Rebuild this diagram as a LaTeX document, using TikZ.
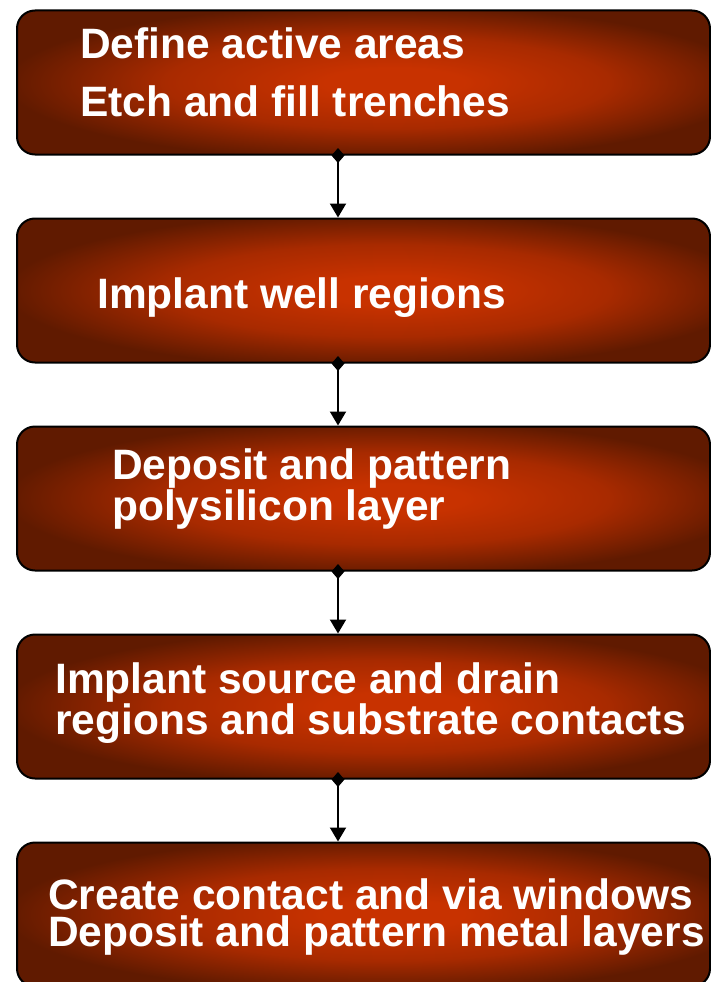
\documentclass[tikz,border=0pt]{standalone}
\usepackage{fontspec}
\setmainfont{Liberation Sans}
\usetikzlibrary{arrows.meta}

\definecolor{glowcore}{RGB}{200,50,0}
\definecolor{glowmid}{RGB}{168,42,0}
\definecolor{glowedge}{RGB}{96,26,0}
\pgfdeclareradialshading{stepglow}{\pgfpoint{2.5bp}{0bp}}{color(0bp)=(glowcore); color(5bp)=(glowcore); color(16bp)=(glowmid); color(27bp)=(glowedge); color(50bp)=(glowedge)}

\begin{document}
\begin{tikzpicture}[x=1pt,y=1pt,
  stepbox/.style={draw=black,line width=2pt,rounded corners=18pt,shade,shading=stepglow,
    minimum width=693pt,minimum height=144pt,inner sep=0pt},
  steptext/.style={anchor=base west,text=white,inner sep=0pt,align=left,
    font=\bfseries\fontsize{42.5}{37}\selectfont},
  flow/.style={line width=2pt,{Diamond[length=15pt,width=13pt]}-{Triangle[length=14pt,width=16pt]},
    shorten <=-7.5pt}]
 \useasboundingbox (0,0) rectangle (711,-982);
 \node[stepbox] (active) at (363.5,-82.5) {};
 \node[stepbox] (well) at (363.5,-290.5) {};
 \node[stepbox] (poly) at (363.5,-498.5) {};
 \node[stepbox] (implant) at (363.5,-706.5) {};
 \node[stepbox] (metal) at (363.5,-914.5) {};
 % step texts (anchored on the last baseline)
 \node[steptext] (activetext) at (80,-116) {Define active areas\\[21pt]Etch and fill trenches};
 \node[steptext] (welltext) at (97,-308) {Implant well regions};
 \node[steptext] (polytext) at (112,-520) {Deposit and pattern\\polysilicon layer};
 \node[steptext] (implanttext) at (55,-734) {Implant source and drain\\regions and substrate contacts};
 \node[steptext] (metaltext) at (48,-946) {Create contact and via windows\\Deposit and pattern metal layers};
 % flow arrows
 \draw[flow] ([xshift=-25.5pt]active.south) -- ([xshift=-25.5pt]well.north);
 \draw[flow] ([xshift=-25.5pt]well.south) -- ([xshift=-25.5pt]poly.north);
 \draw[flow] ([xshift=-25.5pt]poly.south) -- ([xshift=-25.5pt]implant.north);
 \draw[flow] ([xshift=-25.5pt]implant.south) -- ([xshift=-25.5pt]metal.north);
\end{tikzpicture}
\end{document}
